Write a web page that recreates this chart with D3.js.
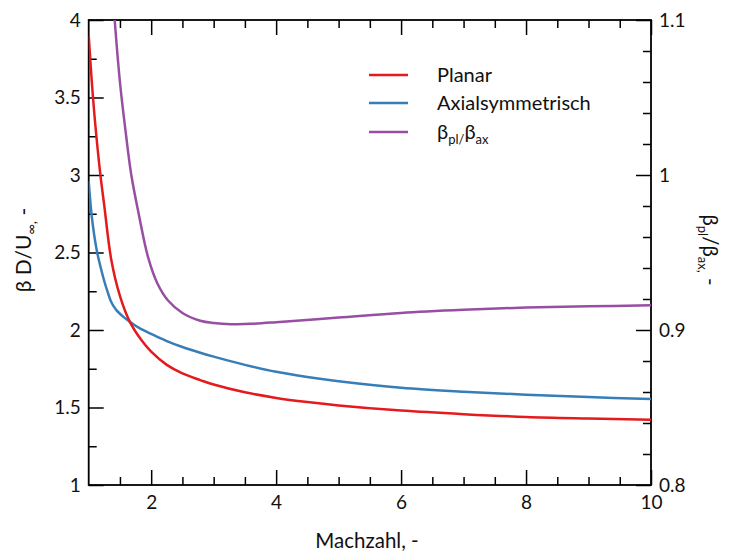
<!DOCTYPE html>
<html>
<head>
<meta charset="utf-8">
<script src="https://cdn.jsdelivr.net/npm/d3@7"></script>
<style>
  html, body { margin: 0; padding: 0; background: #fff; }
  svg { display: block; font-family: "Lato", "DejaVu Sans", sans-serif; }
</style>
</head>
<body>
<svg id="chart" width="729" height="551"></svg>
<script>
// ---- data ----
const machPlanar = [1.0, 1.05, 1.1, 1.186, 1.25, 1.362, 1.5, 1.657, 1.843, 2.0, 2.25, 2.5, 2.786, 3.0, 3.5, 4.0, 4.5, 5, 6, 7, 8, 9, 10];
const planar     = [3.9, 3.6, 3.35, 3.005, 2.8, 2.452, 2.22, 2.054, 1.935, 1.86, 1.775, 1.72, 1.677, 1.648, 1.598, 1.562, 1.535, 1.513, 1.48, 1.457, 1.439, 1.429, 1.421];

const machAxial = [1.0, 1.05, 1.128, 1.2, 1.26, 1.31, 1.35, 1.4, 1.45, 1.5, 1.57, 1.657, 1.8, 2.0, 2.24, 2.5, 2.786, 3.0, 3.5, 4.0, 4.5, 5, 6, 7, 8, 9, 10];
const axial     = [2.96, 2.73, 2.516, 2.39, 2.30, 2.237, 2.19, 2.152, 2.125, 2.105, 2.08, 2.054, 2.015, 1.975, 1.93, 1.89, 1.853, 1.828, 1.775, 1.73, 1.697, 1.67, 1.628, 1.602, 1.583, 1.567, 1.555];

const machRatio = [1.416, 1.5, 1.6, 1.682, 1.8, 1.95, 2.1, 2.27, 2.5, 2.786, 3.0, 3.27, 3.6, 4, 5, 6, 7, 8, 9, 10];
const ratio     = [1.1, 1.06, 1.025, 1.0, 0.975, 0.947, 0.93, 0.919, 0.911, 0.906, 0.9045, 0.9037, 0.904, 0.905, 0.908, 0.911, 0.913, 0.9145, 0.9153, 0.9159];

const xMajorTicks = [2, 4, 6, 8, 10];
const xMinorTicks = [1.5, 2.5, 3, 3.5, 4.5, 5, 5.5, 6.5, 7, 7.5, 8.5, 9, 9.5];
const yLeftMajorTicks = [1, 1.5, 2, 2.5, 3, 3.5, 4];
const yLeftMinorTicks = [1.25, 1.75, 2.25, 2.75, 3.25, 3.75];
const yRightMajorTicks = [0.8, 0.9, 1, 1.1];
const yRightMinorTicks = [0.82, 0.84, 0.86, 0.88, 0.92, 0.94, 0.96, 0.98, 1.02, 1.04, 1.06, 1.08];

const legendLabels = ["Planar", "Axialsymmetrisch", "ratio"];
const colors = ["#e41a1c", "#377eb8", "#984ea3"];

// ---- layout ----
const svg = d3.select("#chart");
const L = 88.7, R = 651, T = 20, B = 485;
const x = d3.scaleLinear().domain([1, 10]).range([L, R]);
const yL = d3.scaleLinear().domain([1, 4]).range([B, T]);
const yR = d3.scaleLinear().domain([0.8, 1.1]).range([B, T]);
const fmt = d3.format("~g");

svg.append("defs").append("clipPath").attr("id", "clip")
  .append("rect").attr("x", L).attr("y", T).attr("width", R - L).attr("height", B - T);

function styleAxis(g) {
  g.select(".domain").remove();
  g.selectAll(".tick line").attr("stroke", "#000").attr("stroke-width", 1.5);
  g.selectAll(".tick text").attr("fill", "#111").style("font-size", "19px").style("font-family", "Lato, sans-serif");
}

// bottom
svg.append("g").attr("transform", `translate(0,${B})`)
  .call(d3.axisBottom(x).tickValues(xMajorTicks).tickFormat(fmt).tickSizeInner(-15).tickSizeOuter(0).tickPadding(11))
  .call(styleAxis);
svg.append("g").attr("transform", `translate(0,${B})`)
  .call(d3.axisBottom(x).tickValues(xMinorTicks).tickFormat("").tickSizeInner(-8).tickSizeOuter(0))
  .call(styleAxis);
// top
svg.append("g").attr("transform", `translate(0,${T})`)
  .call(d3.axisTop(x).tickValues(xMajorTicks).tickFormat("").tickSizeInner(-15).tickSizeOuter(0))
  .call(styleAxis);
svg.append("g").attr("transform", `translate(0,${T})`)
  .call(d3.axisTop(x).tickValues(xMinorTicks).tickFormat("").tickSizeInner(-8).tickSizeOuter(0))
  .call(styleAxis);
// left
svg.append("g").attr("transform", `translate(${L},0)`)
  .call(d3.axisLeft(yL).tickValues(yLeftMajorTicks).tickFormat(fmt).tickSizeInner(-15).tickSizeOuter(0).tickPadding(8))
  .call(styleAxis);
svg.append("g").attr("transform", `translate(${L},0)`)
  .call(d3.axisLeft(yL).tickValues(yLeftMinorTicks).tickFormat("").tickSizeInner(-8).tickSizeOuter(0))
  .call(styleAxis);
// right
svg.append("g").attr("transform", `translate(${R},0)`)
  .call(d3.axisRight(yR).tickValues(yRightMajorTicks).tickFormat(fmt).tickSizeInner(-15).tickSizeOuter(0).tickPadding(8))
  .call(styleAxis);
svg.append("g").attr("transform", `translate(${R},0)`)
  .call(d3.axisRight(yR).tickValues(yRightMinorTicks).tickFormat("").tickSizeInner(-8).tickSizeOuter(0))
  .call(styleAxis);

// frame
svg.append("rect").attr("x", L).attr("y", T).attr("width", R - L).attr("height", B - T)
  .attr("fill", "none").attr("stroke", "#000").attr("stroke-width", 1.8);

// lines
const plot = svg.append("g").attr("clip-path", "url(#clip)");
const curve = d3.curveCatmullRom.alpha(0.5);
const lineL = d3.line().x(d => x(d[0])).y(d => yL(d[1])).curve(curve);
const lineR = d3.line().x(d => x(d[0])).y(d => yR(d[1])).curve(curve);

plot.append("path").datum(d3.zip(machRatio, ratio)).attr("d", lineR)
  .attr("fill", "none").attr("stroke", colors[2]).attr("stroke-width", 2.5);
plot.append("path").datum(d3.zip(machAxial, axial)).attr("d", lineL)
  .attr("fill", "none").attr("stroke", colors[1]).attr("stroke-width", 2.5);
plot.append("path").datum(d3.zip(machPlanar, planar)).attr("d", lineL)
  .attr("fill", "none").attr("stroke", colors[0]).attr("stroke-width", 2.5);

// legend
const legY = [75, 103, 132];
const leg = svg.append("g");
legendLabels.forEach((lab, i) => {
  leg.append("line").attr("x1", 369).attr("x2", 408).attr("y1", legY[i]).attr("y2", legY[i])
    .attr("stroke", colors[i]).attr("stroke-width", 2.5);
  const t = leg.append("text").attr("x", 437).attr("y", legY[i] + 7)
    .attr("fill", "#111").style("font-size", "20px");
  if (i < 2) {
    t.text(lab);
  } else {
    t.append("tspan").text("β");
    t.append("tspan").attr("dy", 5).style("font-size", "13px").text("pl/");
    t.append("tspan").attr("dy", -5).text("β");
    t.append("tspan").attr("dy", 5).style("font-size", "13px").text("ax");
  }
});

// axis titles
svg.append("text").attr("x", 367).attr("y", 548).attr("text-anchor", "middle")
  .attr("fill", "#111").style("font-size", "20.5px").text("Machzahl, -");

const yt = svg.append("text").attr("transform", "translate(31,250) rotate(-90)")
  .attr("text-anchor", "middle").attr("fill", "#111").style("font-size", "21px");
yt.append("tspan").text("β D/U");
yt.append("tspan").attr("dy", 5).style("font-size", "14px").text("∞,");
yt.append("tspan").attr("dy", -5).text(" -");

const rt = svg.append("text").attr("transform", "translate(703,250) rotate(90)")
  .attr("text-anchor", "middle").attr("fill", "#111").style("font-size", "20.5px");
rt.append("tspan").text("β");
rt.append("tspan").attr("dy", 5).style("font-size", "13px").text("pl");
rt.append("tspan").attr("dy", -5).text("/β");
rt.append("tspan").attr("dy", 5).style("font-size", "13px").text("ax,");
rt.append("tspan").attr("dy", -5).text(" -");
</script>
</body>
</html>
